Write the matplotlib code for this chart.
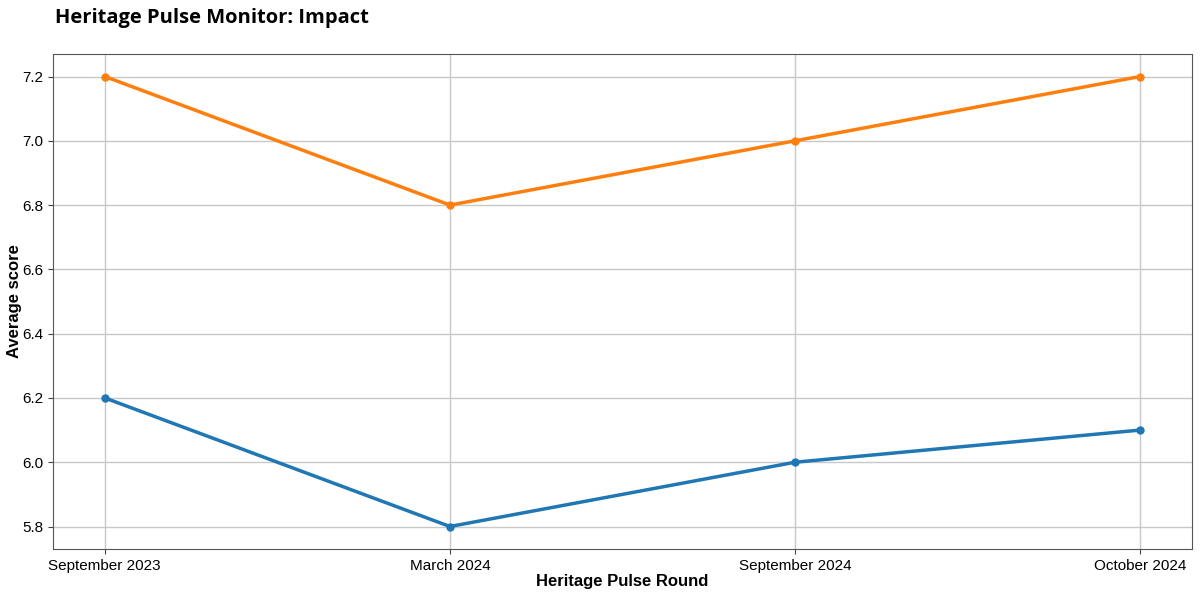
import matplotlib
matplotlib.use('Agg')
import matplotlib.pyplot as plt

rounds = ['September 2023', 'March 2024', 'September 2024', 'October 2024']
series_orange = [7.2, 6.8, 7.0, 7.2]
series_blue = [6.2, 5.8, 6.0, 6.1]

plt.rcParams['font.family'] = ['Liberation Sans', 'DejaVu Sans']

fig = plt.figure(figsize=(12, 5.97), dpi=100)
ax = fig.add_axes([53/1200, 1 - 549/597, (1192-53)/1200, (549-54)/597])

x = range(len(rounds))
ax.plot(x, series_blue, color='#1f77b4', linewidth=2.5, marker='o', markersize=5)
ax.plot(x, series_orange, color='#ff7f0e', linewidth=2.5, marker='o', markersize=5)

ax.set_xticks(list(x))
ax.set_xticklabels(rounds)
ax.set_yticks([5.8, 6.0, 6.2, 6.4, 6.6, 6.8, 7.0, 7.2])
ax.tick_params(labelsize=11, color='#444444')
ax.grid(True, color='#c8c8c8', linewidth=1)
ax.set_axisbelow(True)
for s in ax.spines.values():
    s.set_color('#555555')

ax.set_xlabel('Heritage Pulse Round', fontsize=12, fontweight='bold', labelpad=1)
ax.set_ylabel('Average score', fontsize=12, fontweight='bold', labelpad=0)

fig.text(55/1200, 1 - 18/597, 'Heritage Pulse Monitor: Impact', fontsize=14.5,
         fontweight='bold', family=['Open Sans', 'DejaVu Sans'], va='center', ha='left')

fig.savefig('out.png', dpi=100)
